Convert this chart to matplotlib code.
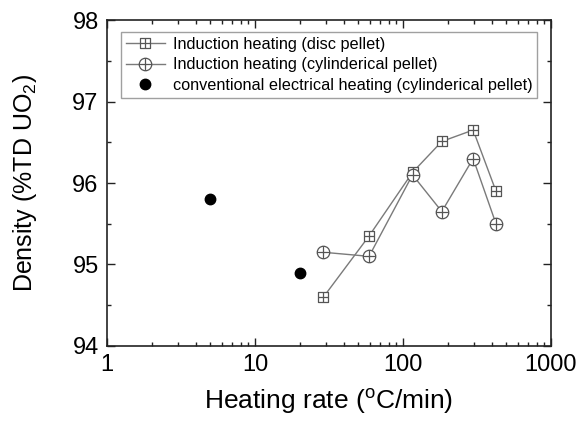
import numpy as np
import matplotlib
matplotlib.use("Agg")
import matplotlib.pyplot as plt
from matplotlib.path import Path
from matplotlib.ticker import MultipleLocator, FixedLocator, NullFormatter

plt.rcParams['font.family'] = ['Liberation Sans', 'DejaVu Sans']

# data
disc_rate = [29, 59, 116, 183, 298, 425]
disc_density = [94.6, 95.35, 96.13, 96.51, 96.65, 95.9]
cyl_rate = [29, 59, 116, 183, 298, 425]
cyl_density = [95.15, 95.1, 96.1, 95.65, 96.3, 95.5]
conv_rate = [5, 20]
conv_density = [95.8, 94.9]

labels = ["Induction heating (disc pellet)",
          "Induction heating (cylinderical pellet)",
          "conventional electrical heating (cylinderical pellet)"]


def plus_marker(base):
    cross = Path([(-1, 0), (1, 0), (0, -1), (0, 1)],
                 [Path.MOVETO, Path.LINETO, Path.MOVETO, Path.LINETO])
    return Path.make_compound_path(base, cross)


sq = Path([(-1, -1), (1, -1), (1, 1), (-1, 1), (-1, -1)],
          [Path.MOVETO, Path.LINETO, Path.LINETO, Path.LINETO, Path.CLOSEPOLY])
sq_plus = plus_marker(sq)
circ_plus = plus_marker(Path.unit_circle())

fig = plt.figure(figsize=(5.82, 4.22), dpi=100)
ax = fig.add_axes([0.1838, 0.1801, 0.7629, 0.7725])

gray = '#7a7a7a'
ax.plot(disc_rate, disc_density, color=gray, lw=1.0, marker=sq_plus,
        ms=7.5, mfc='white', mec='#555555', mew=0.9, label=labels[0])
ax.plot(cyl_rate, cyl_density, color=gray, lw=1.0, marker=circ_plus,
        ms=9, mfc='white', mec='#555555', mew=0.9, label=labels[1])
ax.plot(conv_rate, conv_density, ls='none', marker='o', ms=7.5,
        color='black', label=labels[2])

ax.set_xscale('log')
ax.set_xlim(1, 1000)
ax.set_ylim(94, 98)
ax.yaxis.set_major_locator(MultipleLocator(1))
ax.yaxis.set_minor_locator(MultipleLocator(0.5))
ax.set_xticks([1, 10, 100, 1000])
ax.set_xticklabels(['1', '10', '100', '1000'])
minors = [m * 10 ** e for e in range(3) for m in range(2, 10)]
ax.xaxis.set_minor_locator(FixedLocator(minors))
ax.xaxis.set_minor_formatter(NullFormatter())

ax.tick_params(which='both', direction='in', top=True, right=True,
               labelsize=17, width=1.0, color='#222222')
ax.tick_params(which='major', length=6, pad=6)
ax.tick_params(which='minor', length=3)
for s in ax.spines.values():
    s.set_linewidth(1.2)
    s.set_color('#222222')

ax.set_xlabel('Heating rate ($\\mathregular{^oC}$/min)', fontsize=19, labelpad=8)
ax.set_ylabel('Density (%TD UO$\\mathregular{_2}$)', fontsize=18, labelpad=24)

leg = ax.legend(loc='upper left', bbox_to_anchor=(0.0315, 0.963),
                borderaxespad=0, fontsize=11.7, frameon=True, fancybox=False,
                handlelength=2.4, handletextpad=0.5, labelspacing=0.33,
                borderpad=0.3)
leg.get_frame().set_edgecolor('#888888')
leg.get_frame().set_linewidth(1.0)

fig.savefig('out.png', dpi=100)
